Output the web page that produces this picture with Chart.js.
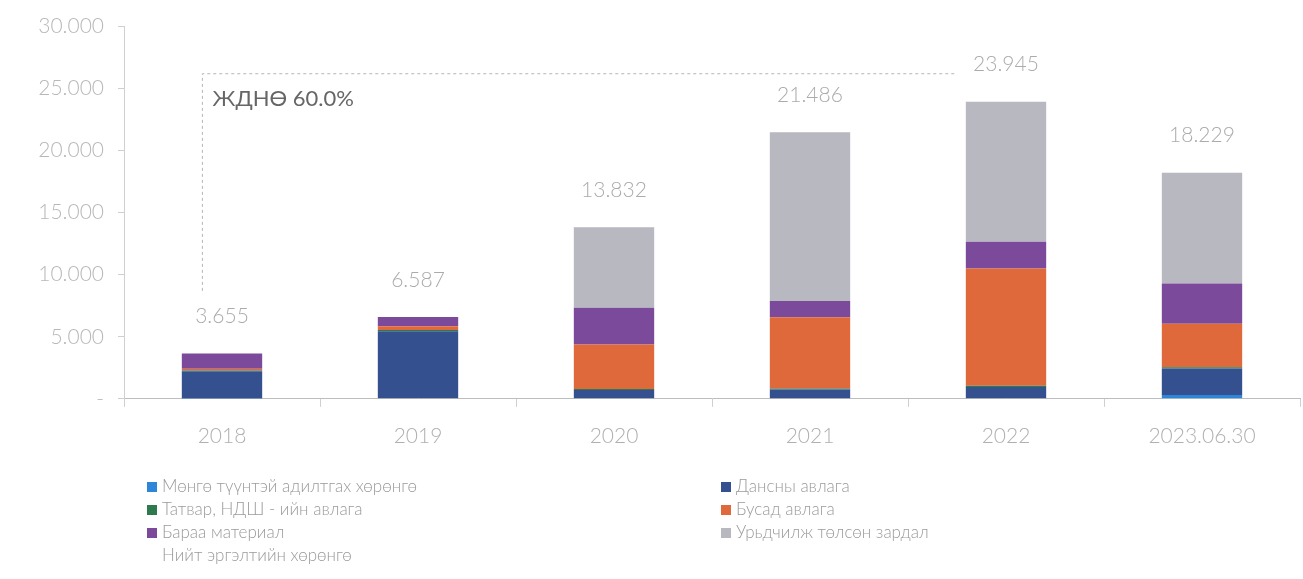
<!DOCTYPE html>
<html>
<head>
<meta charset="utf-8">
<script src="https://cdn.jsdelivr.net/npm/chart.js@4"></script>
<style>
  html,body{margin:0;padding:0;background:#fff;}
  #wrap{position:relative;width:1303px;height:579px;overflow:hidden;}
  #c{position:absolute;left:0;top:0;}
  #legend{position:absolute;left:0;top:0;width:1303px;height:579px;pointer-events:none;
    font-family:"Lato",sans-serif;font-weight:300;font-size:17px;color:#9a9a9a;}
  .li{position:absolute;white-space:nowrap;line-height:20px;}
  .sw{display:inline-block;width:10px;height:10px;margin-right:5px;vertical-align:0px;}
</style>
</head>
<body>
<div id="wrap">
  <canvas id="c" width="1303" height="466"></canvas>
  <div id="legend"></div>
</div>
<script>
// ---- data ----
const categories = ["2018", "2019", "2020", "2021", "2022", "2023.06.30"];
const cashEquiv      = [30,   50,   50,   50,   50,   300];    // Мөнгө түүнтэй адилтгах хөрөнгө
const receivables    = [2200, 5400, 650,  700,  900,  2150];   // Дансны авлага
const taxReceivable  = [50,   100,  80,   80,   100,  100];    // Татвар, НДШ - ийн авлага
const otherRecv      = [150,  300,  3600, 5750, 9450, 3500];   // Бусад авлага
const inventory      = [1225, 737,  2950, 1300, 2150, 3250];   // Бараа материал
const prepaid        = [0,    0,    6502, 13606, 11295, 8929]; // Урьдчилж төлсөн зардал
const totals         = [3655, 6587, 13832, 21486, 23945, 18229]; // Нийт эргэлтийн хөрөнгө
const yTicks         = [0, 5000, 10000, 15000, 20000, 25000, 30000];
const annotationText = "ЖДНӨ 60.0%";

const seriesNames = ["Мөнгө түүнтэй адилтгах хөрөнгө","Дансны авлага","Татвар, НДШ - ийн авлага","Бусад авлага","Бараа материал","Урьдчилж төлсөн зардал"];
const seriesData  = [cashEquiv, receivables, taxReceivable, otherRecv, inventory, prepaid];
const seriesColors = ["#2f86d8","#34508f","#2e7a4e","#e0693b","#7b4a9b","#b7b8c0"];

const fmt = v => v === 0 ? "-" : v.toLocaleString("de-DE");

const datasets = seriesNames.map((n,i)=>({
  label:n, data:seriesData[i], backgroundColor:seriesColors[i], stack:"s",
  categoryPercentage:1.0, barPercentage:0.41, borderWidth:0
}));

const overlay = {
  id:"overlay",
  afterDatasetsDraw(chart){
    const ctx = chart.ctx, x = chart.scales.x, y = chart.scales.y;
    ctx.save();
    // total labels
    ctx.font = "300 21px Lato";
    ctx.fillStyle = "#ababab";
    ctx.textAlign = "center"; ctx.textBaseline = "middle";
    totals.forEach((t,i)=>{
      ctx.fillText(fmt(t), x.getPixelForValue(i), y.getPixelForValue(t) - 37);
    });
    // dashed bracket
    const x0 = x.getPixelForValue(-0.1), x1 = x.getPixelForValue(3.75);
    const yTop = y.getPixelForValue(26200), yBot = y.getPixelForValue(8700);
    ctx.strokeStyle = "#b5b5b5"; ctx.lineWidth = 1; ctx.setLineDash([3,3]);
    ctx.beginPath();
    ctx.moveTo(x0, yBot); ctx.lineTo(x0, yTop); ctx.lineTo(x1, yTop);
    ctx.stroke();
    ctx.setLineDash([]);
    ctx.font = "400 22px Lato";
    ctx.fillStyle = "#666666"; ctx.textAlign = "left";
    ctx.fillText(annotationText, x0 + 10, yTop + 25);
    ctx.restore();
  }
};

new Chart(document.getElementById("c"), {
  type:"bar",
  data:{labels:categories, datasets},
  options:{
    responsive:false, animation:false,
    layout:{padding:{top:3,right:3,left:0,bottom:0}},
    plugins:{legend:{display:false}, tooltip:{enabled:false}},
    scales:{
      x:{
        stacked:true,
        grid:{display:true, drawOnChartArea:false, offset:true, tickLength:8, color:"#cfcfcf"},
        border:{display:true, color:"#bdbdbd"},
        ticks:{font:{family:"Lato", size:21, weight:"300"}, color:"#b0b0b0", padding:17}
      },
      y:{
        stacked:true, min:0, max:30000,
        afterBuildTicks(s){ s.ticks = yTicks.map(v=>({value:v})); },
        afterFit(s){ s.width = 124; },
        grid:{display:true, drawOnChartArea:false, tickLength:6, color:"#cfcfcf"},
        border:{display:true, color:"#d0d0d0"},
        ticks:{font:{family:"Lato", size:21, weight:"300"}, color:"#b8b8b8", padding:14,
          callback:(v)=>fmt(v)}
      }
    }
  },
  plugins:[overlay]
});

// HTML legend in two columns
const legendLayout = [
  {s:0,col:0,row:0},{s:2,col:0,row:1},{s:4,col:0,row:2},{s:-1,col:0,row:3},
  {s:1,col:1,row:0},{s:3,col:1,row:1},{s:5,col:1,row:2}
];
const colX = [147, 721], rowY0 = 476, rowStep = 23;
const lg = document.getElementById("legend");
legendLayout.forEach(e=>{
  const d = document.createElement("div");
  d.className = "li";
  d.style.left = colX[e.col] + "px";
  d.style.top = (rowY0 + e.row*rowStep) + "px";
  if (e.s >= 0) {
    d.innerHTML = '<span class="sw" style="background:'+seriesColors[e.s]+'"></span>' + seriesNames[e.s];
  } else {
    d.innerHTML = '<span class="sw" style="background:transparent"></span>Нийт эргэлтийн хөрөнгө';
  }
  lg.appendChild(d);
});
</script>
</body>
</html>
